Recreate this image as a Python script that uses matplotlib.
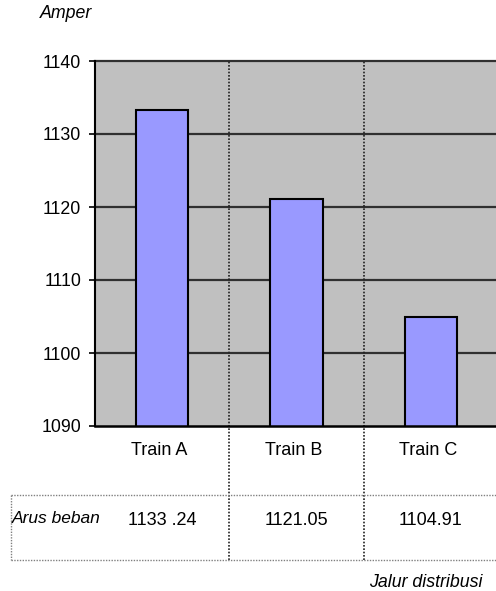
import matplotlib
matplotlib.use("Agg")
import matplotlib.pyplot as plt
import matplotlib.transforms as mtransforms

plt.rcParams['font.family'] = ['Liberation Sans', 'DejaVu Sans']

# data
categories = ['Train A', 'Train B', 'Train C']
arus_beban = [1133.24, 1121.05, 1104.91]
value_labels = ['1133 .24', '1121.05', '1104.91']
y_ticks = [1090, 1100, 1110, 1120, 1130, 1140]

W, H = 496, 591
fig = plt.figure(figsize=(W / 100, H / 100), dpi=100)
ax = fig.add_axes([95 / W, (H - 426) / H, 403 / W, 365 / H])
ax.set_facecolor('#c0c0c0')

x = [i + 0.5 for i in range(len(categories))]
ax.bar(x, arus_beban, width=0.39, color='#9999ff', edgecolor='black', linewidth=1.5, zorder=3)

ax.set_xlim(0, len(categories))
ax.set_ylim(y_ticks[0], y_ticks[-1])
ax.set_yticks(y_ticks)
ax.set_xticks([])
ax.tick_params(axis='y', length=4, width=1.2, pad=6, labelsize=12.8, direction='out')

for yv in y_ticks[1:]:
    ax.axhline(yv, color='#303030', lw=1.6, zorder=1, clip_on=False)

ax.spines['top'].set_visible(False)
ax.spines['right'].set_visible(False)
ax.spines['left'].set_linewidth(1.5)
ax.spines['bottom'].set_linewidth(1.8)
ax.spines['bottom'].set_zorder(4)

# table area below the axes (axes fraction units)
tbl_top, tbl_bot, tbl_left = -0.189, -0.367, -0.208
vdot = dict(color='#202020', lw=1.2, linestyle=(0, (1, 1)), clip_on=False)
hdot = dict(color='#808080', lw=1.0, linestyle=(0, (1, 1)), clip_on=False)
for b in range(1, len(categories) + 1):
    ax.axvline(b, ymin=tbl_bot, ymax=1, zorder=2, **vdot)
ax.plot([tbl_left, 1.01], [tbl_top, tbl_top], transform=ax.transAxes, **hdot)
ax.plot([tbl_left, 1.01], [tbl_bot, tbl_bot], transform=ax.transAxes, **hdot)
ax.plot([tbl_left, tbl_left], [tbl_top, tbl_bot], transform=ax.transAxes, **hdot)

trans = mtransforms.blended_transform_factory(ax.transData, ax.transAxes)
for xi, cat, lab in zip(x, categories, value_labels):
    ax.text(xi - 0.02, -0.066, cat, transform=trans, ha='center', va='center', fontsize=13)
    ax.text(xi, -0.258, lab, transform=trans, ha='center', va='center', fontsize=13)

ax.text(-0.206, -0.254, 'Arus beban', transform=ax.transAxes, ha='left', va='center',
        fontsize=12.5, style='italic')
ax.text(0.962, -0.428, 'Jalur distribusi', transform=ax.transAxes, ha='right', va='center',
        fontsize=12.8, style='italic')
ax.text(-0.137, 1.129, 'Amper', transform=ax.transAxes, ha='left', va='center',
        fontsize=12.8, style='italic')

fig.savefig('out.png', dpi=100)
